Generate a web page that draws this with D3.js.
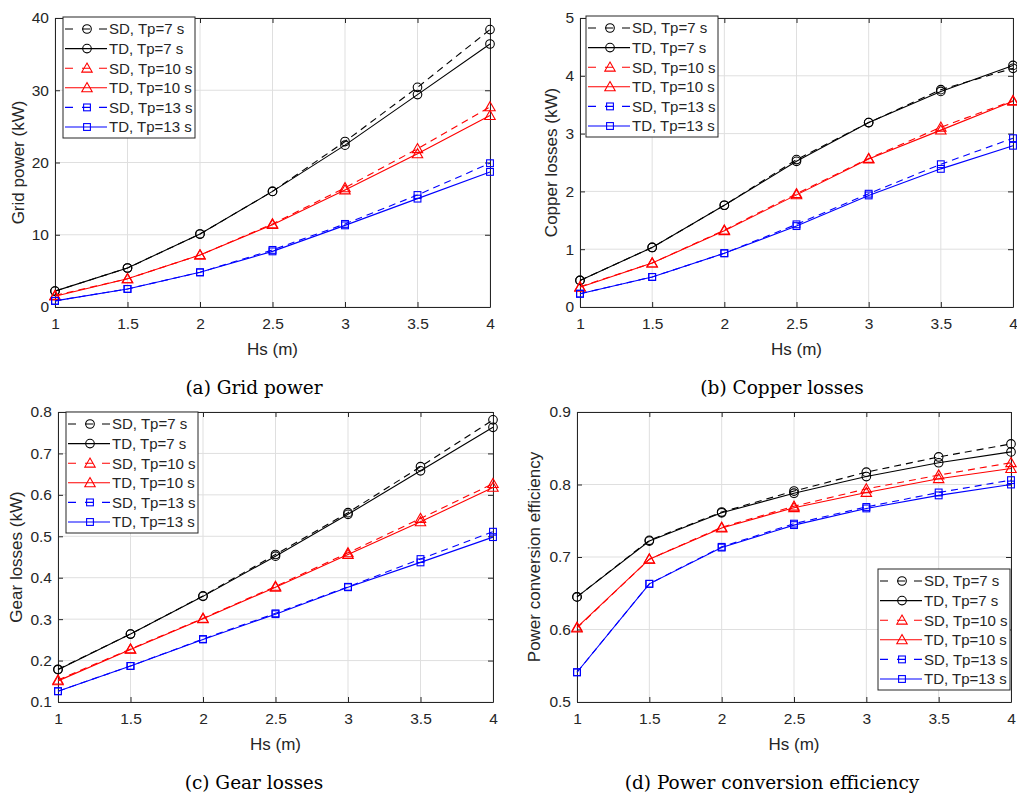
<!DOCTYPE html>
<html>
<head>
<meta charset="utf-8">
<script src="https://cdn.jsdelivr.net/npm/d3@7"></script>
<style>
  body { margin: 0; background: #fff; }
  svg { display: block; }
</style>
</head>
<body>
<div id="chart"></div>
<script>
// Hs values shared by all panels
const hs = [1, 1.5, 2, 2.5, 3, 3.5, 4];

const seriesNames = ['SD, Tp=7 s', 'TD, Tp=7 s', 'SD, Tp=10 s', 'TD, Tp=10 s', 'SD, Tp=13 s', 'TD, Tp=13 s'];

// (a) Grid power (kW)
const gridSD7  = [2.2, 5.4, 10.1, 16.0, 22.9, 30.4, 38.4];
const gridTD7  = [2.2, 5.4, 10.1, 16.0, 22.4, 29.4, 36.4];
const gridSD10 = [1.6, 3.9, 7.2, 11.5, 16.5, 21.9, 27.7];
const gridTD10 = [1.5, 3.9, 7.2, 11.4, 16.2, 21.2, 26.5];
const gridSD13 = [0.85, 2.5, 4.8, 7.9, 11.5, 15.5, 19.9];
const gridTD13 = [0.85, 2.5, 4.8, 7.7, 11.3, 15.0, 18.7];

// (b) Copper losses (kW)
const copSD7  = [0.46, 1.03, 1.76, 2.55, 3.19, 3.76, 4.13];
const copTD7  = [0.46, 1.03, 1.76, 2.52, 3.19, 3.73, 4.18];
const copSD10 = [0.35, 0.76, 1.33, 1.96, 2.57, 3.11, 3.57];
const copTD10 = [0.34, 0.76, 1.32, 1.94, 2.56, 3.06, 3.56];
const copSD13 = [0.23, 0.52, 0.93, 1.43, 1.96, 2.47, 2.92];
const copTD13 = [0.23, 0.52, 0.93, 1.40, 1.93, 2.39, 2.79];

// (c) Gear losses (kW)
const gearSD7  = [0.179, 0.264, 0.356, 0.456, 0.557, 0.668, 0.781];
const gearTD7  = [0.178, 0.264, 0.355, 0.452, 0.553, 0.658, 0.763];
const gearSD10 = [0.153, 0.228, 0.302, 0.379, 0.460, 0.543, 0.627];
const gearTD10 = [0.151, 0.227, 0.301, 0.377, 0.456, 0.535, 0.618];
const gearSD13 = [0.126, 0.187, 0.252, 0.314, 0.378, 0.445, 0.511];
const gearTD13 = [0.126, 0.187, 0.251, 0.312, 0.377, 0.437, 0.498];

// (d) Power conversion efficiency
const effSD7  = [0.645, 0.723, 0.762, 0.791, 0.817, 0.838, 0.856];
const effTD7  = [0.645, 0.722, 0.761, 0.788, 0.811, 0.830, 0.845];
const effSD10 = [0.602, 0.697, 0.741, 0.770, 0.794, 0.813, 0.830];
const effTD10 = [0.603, 0.697, 0.740, 0.768, 0.789, 0.808, 0.822];
const effSD13 = [0.541, 0.663, 0.714, 0.746, 0.769, 0.789, 0.806];
const effTD13 = [0.541, 0.663, 0.713, 0.744, 0.767, 0.785, 0.800];

const xTicks = [1, 1.5, 2, 2.5, 3, 3.5, 4];
const gridTicks = [0, 10, 20, 30, 40];
const copTicks = [0, 1, 2, 3, 4, 5];
const gearTicks = [0.1, 0.2, 0.3, 0.4, 0.5, 0.6, 0.7, 0.8];
const effTicks = [0.5, 0.6, 0.7, 0.8, 0.9];

const styles = [
  { color: '#000000', dash: '7,5', marker: 'circle' },
  { color: '#000000', dash: null, marker: 'circle' },
  { color: '#ff0000', dash: '7,5', marker: 'triangle' },
  { color: '#ff0000', dash: null, marker: 'triangle' },
  { color: '#0000ff', dash: '7,5', marker: 'square' },
  { color: '#0000ff', dash: null, marker: 'square' }
];

const panels = [
  { box: [55, 18, 490, 307], domain: [0, 40], ticks: gridTicks, fmt: d => d, ylabel: 'Grid power (kW)', ylabelX: 18,
    caption: '(a) Grid power', capX: 254, capY: 394, legend: [63, 17], series: [gridSD7, gridTD7, gridSD10, gridTD10, gridSD13, gridTD13] },
  { box: [580, 18, 1013, 307], domain: [0, 5], ticks: copTicks, fmt: d => d, ylabel: 'Copper losses (kW)', ylabelX: 551,
    caption: '(b) Copper losses', capX: 782, capY: 394, legend: [586, 16], series: [copSD7, copTD7, copSD10, copTD10, copSD13, copTD13] },
  { box: [58, 412, 493, 702], domain: [0.1, 0.8], ticks: gearTicks, fmt: d3.format('.1f'), ylabel: 'Gear losses (kW)', ylabelX: 16,
    caption: '(c) Gear losses', capX: 254, capY: 789, legend: [66, 412], series: [gearSD7, gearTD7, gearSD10, gearTD10, gearSD13, gearTD13] },
  { box: [577, 412, 1011, 702], domain: [0.5, 0.9], ticks: effTicks, fmt: d3.format('.1f'), ylabel: 'Power conversion efficiency', ylabelX: 534,
    caption: '(d) Power conversion efficiency', capX: 772, capY: 789, legend: [878, 569], series: [effSD7, effTD7, effSD10, effTD10, effSD13, effTD13] }
];

const AX = '#262626';
const FONT = "'Liberation Sans', Arial, Helvetica, sans-serif";

const svg = d3.select('#chart').append('svg')
  .attr('width', 1017).attr('height', 798);

function drawMarker(g, type, cx, cy, color) {
  if (type === 'circle') {
    g.append('circle').attr('cx', cx).attr('cy', cy).attr('r', 4.3)
      .attr('fill', 'none').attr('stroke', color).attr('stroke-width', 1.1);
  } else if (type === 'triangle') {
    const s = 5.2;
    g.append('path')
      .attr('d', `M${cx},${cy - s} L${cx + s},${cy + s * 0.75} L${cx - s},${cy + s * 0.75} Z`)
      .attr('fill', 'none').attr('stroke', color).attr('stroke-width', 1.1);
  } else {
    g.append('rect').attr('x', cx - 3.4).attr('y', cy - 3.4).attr('width', 6.8).attr('height', 6.8)
      .attr('fill', 'none').attr('stroke', color).attr('stroke-width', 1.1);
  }
}

panels.forEach(p => {
  const [x0, y0, x1, y1] = p.box;
  const x = d3.scaleLinear().domain([1, 4]).range([x0, x1]);
  const y = d3.scaleLinear().domain(p.domain).range([y1, y0]);
  const g = svg.append('g');

  // Grid lines
  g.append('g').selectAll('line').data(xTicks).enter().append('line')
    .attr('x1', d => x(d)).attr('x2', d => x(d)).attr('y1', y0).attr('y2', y1)
    .attr('stroke', '#dfdfdf').attr('stroke-width', 1);
  g.append('g').selectAll('line').data(p.ticks).enter().append('line')
    .attr('x1', x0).attr('x2', x1).attr('y1', d => y(d)).attr('y2', d => y(d))
    .attr('stroke', '#dfdfdf').attr('stroke-width', 1);

  // Axes (MATLAB style: inner ticks on all four sides)
  const bottom = g.append('g').attr('transform', `translate(0,${y1})`)
    .call(d3.axisBottom(x).tickValues(xTicks).tickSizeInner(-5).tickSizeOuter(0).tickPadding(11).tickFormat(d => d));
  const top = g.append('g').attr('transform', `translate(0,${y0})`)
    .call(d3.axisTop(x).tickValues(xTicks).tickSizeInner(-5).tickSizeOuter(0).tickFormat(''));
  const left = g.append('g').attr('transform', `translate(${x0},0)`)
    .call(d3.axisLeft(y).tickValues(p.ticks).tickSizeInner(-5).tickSizeOuter(0).tickPadding(6).tickFormat(p.fmt));
  const right = g.append('g').attr('transform', `translate(${x1},0)`)
    .call(d3.axisRight(y).tickValues(p.ticks).tickSizeInner(-5).tickSizeOuter(0).tickFormat(''));
  [bottom, top, left, right].forEach(a => {
    a.selectAll('path, line').attr('stroke', AX).attr('stroke-width', 1);
    a.selectAll('text').attr('fill', AX).attr('font-family', FONT).attr('font-size', '15.5px');
  });

  // Axis labels
  g.append('text')
    .attr('x', (x0 + x1) / 2).attr('y', y1 + 48)
    .attr('text-anchor', 'middle').attr('fill', AX)
    .attr('font-family', FONT).attr('font-size', '17px')
    .text('Hs (m)');
  g.append('text')
    .attr('transform', `translate(${p.ylabelX},${(y0 + y1) / 2}) rotate(-90)`)
    .attr('text-anchor', 'middle').attr('dy', '0.35em').attr('fill', AX)
    .attr('font-family', FONT).attr('font-size', '17px')
    .text(p.ylabel);

  // Lines and markers
  const line = d3.line().x((d, i) => x(hs[i])).y(d => y(d));
  p.series.forEach((vals, si) => {
    const st = styles[si];
    g.append('path').datum(vals)
      .attr('fill', 'none').attr('stroke', st.color).attr('stroke-width', 1.1)
      .attr('stroke-dasharray', st.dash)
      .attr('d', line);
    vals.forEach((v, i) => drawMarker(g, st.marker, x(hs[i]), y(v), st.color));
  });

  // Legend
  const [lx, ly] = p.legend;
  const lg = g.append('g').attr('transform', `translate(${lx},${ly})`);
  lg.append('rect').attr('x', 0).attr('y', 0).attr('width', 132).attr('height', 121)
    .attr('fill', '#fff').attr('stroke', AX).attr('stroke-width', 1);
  seriesNames.forEach((name, si) => {
    const st = styles[si];
    const ry = 12 + si * 19.6;
    lg.append('line').attr('x1', 2).attr('x2', 44).attr('y1', ry).attr('y2', ry)
      .attr('stroke', st.color).attr('stroke-width', 1.1)
      .attr('stroke-dasharray', st.dash ? '8,9' : null);
    drawMarker(lg, st.marker, 24, ry, st.color);
    lg.append('text').attr('x', 46).attr('y', ry).attr('dy', '0.36em')
      .attr('fill', AX).attr('font-family', FONT).attr('font-size', '15px')
      .text(name);
  });

  // Caption
  g.append('text')
    .attr('x', p.capX).attr('y', p.capY)
    .attr('text-anchor', 'middle').attr('fill', '#000')
    .attr('font-family', "'DejaVu Serif', serif").attr('font-size', '18.5px')
    .text(p.caption);
});
</script>
</body>
</html>
